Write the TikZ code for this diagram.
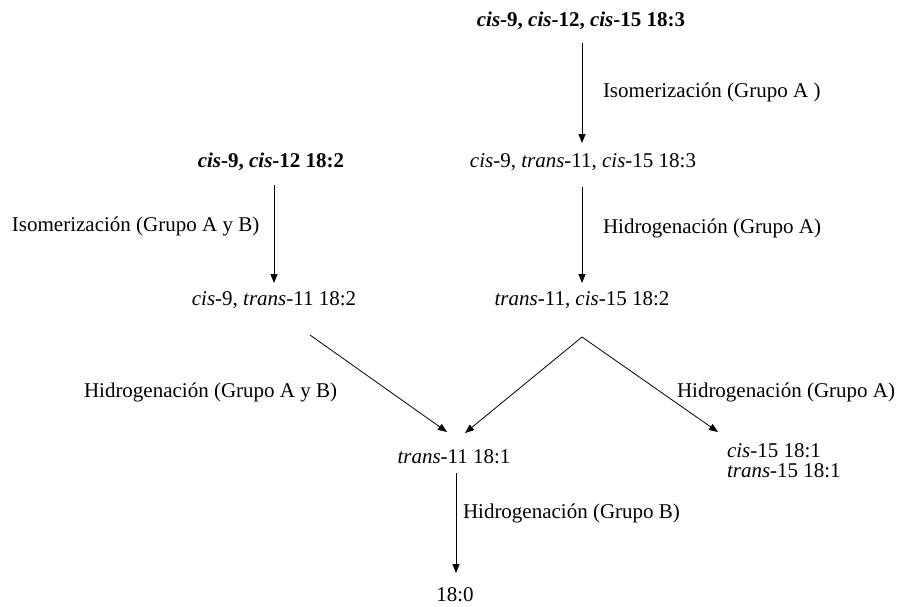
\documentclass[tikz,border=0pt]{standalone}
\usepackage{fontspec}
\setmainfont{Liberation Serif}
\usetikzlibrary{arrows.meta}
\begin{document}
\begin{tikzpicture}[x=1pt,y=-1pt,
  every node/.style={inner sep=0pt,outer sep=0pt,font=\fontsize{21}{21}\selectfont},
  lbl/.style={anchor=base west},
  cmp/.style={anchor=base},
  arr/.style={draw=black,line width=0.8pt,-{Triangle[length=9pt,width=7pt]}}]
\useasboundingbox (0,0) rectangle (900,606);
% compounds
\node[cmp] (n183) at (581,26) {\textbf{\textit{cis}-9, \textit{cis}-12, \textit{cis}-15 18:3}};
\node[cmp] (n182) at (271,167) {\textbf{\textit{cis}-9, \textit{cis}-12 18:2}};
\node[cmp] (t183) at (583,167) {\textit{cis}-9, \textit{trans}-11, \textit{cis}-15 18:3};
\node[cmp] (t182a) at (274,305) {\textit{cis}-9, \textit{trans}-11 18:2};
\node[cmp] (t182b) at (582,305) {\textit{trans}-11, \textit{cis}-15 18:2};
\node[cmp] (t181) at (454,463) {\textit{trans}-11 18:1};
\node[lbl] (c181) at (727,457) {\textit{cis}-15 18:1};
\node[lbl] (tr181) at (727,477) {\textit{trans}-15 18:1};
\node[cmp] (n180) at (455,601) {18:0};
% reaction labels
\node[lbl] (l1) at (603,97) {Isomerización (Grupo A )};
\node[lbl] (l2) at (12,231) {Isomerización (Grupo A y B)};
\node[lbl] (l3) at (603,233) {Hidrogenación (Grupo A)};
\node[lbl] (l4) at (84,397) {Hidrogenación (Grupo A y B)};
\node[lbl] (l5) at (677,397) {Hidrogenación (Grupo A)};
\node[lbl] (l6) at (463,518) {Hidrogenación (Grupo B)};
% connector ends
\coordinate (a1s) at (582,43);  \coordinate (a1e) at (582,143);
\coordinate (a2s) at (582,187); \coordinate (a2e) at (582,283);
\coordinate (a3s) at (274,185); \coordinate (a3e) at (274,283);
\coordinate (d1s) at (310,335); \coordinate (d1e) at (447,432);
\coordinate (pk)  at (582,337);
\coordinate (d2e) at (465,433); \coordinate (d3e) at (718,432);
\coordinate (a4s) at (456,473); \coordinate (a4e) at (456,573);
% connectors
\draw[arr] (a1s) -- (a1e);
\draw[arr] (a2s) -- (a2e);
\draw[arr] (a3s) -- (a3e);
\draw[arr] (d1s) -- (d1e);
\draw[arr] (pk) -- (d2e);
\draw[arr] (pk) -- (d3e);
\draw[arr] (a4s) -- (a4e);
\end{tikzpicture}
\end{document}
